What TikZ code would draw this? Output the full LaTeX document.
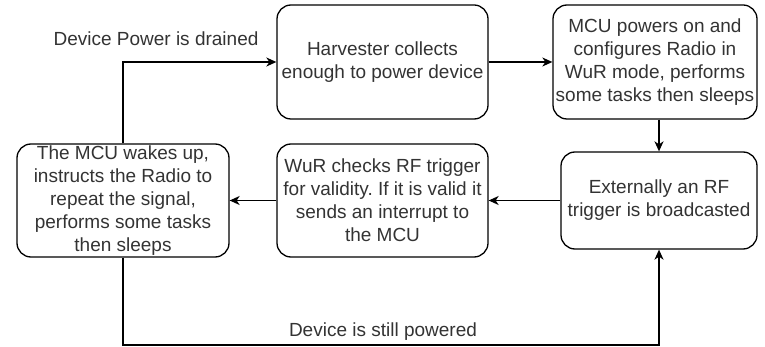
\documentclass[tikz,border=0pt]{standalone}
\usepackage{fontspec}
\setmainfont{Liberation Sans}
\usetikzlibrary{arrows.meta}
\frenchspacing
\begin{document}
\begin{tikzpicture}[x=1pt,y=-1pt,
 box/.style={draw, rounded corners=14pt, line width=1.3pt, align=center, font=\fontsize{19}{23}\selectfont\frenchspacing, text=black!80, inner sep=0pt},
 conn/.style={line width=1.3pt, -{Stealth[length=10pt,width=9pt,inset=3pt]}},
 lbl/.style={font=\fontsize{19}{23}\selectfont, text=black!80, inner sep=1pt}]
\useasboundingbox (0,0) rectangle (765,347);
\node[box, minimum width=211pt, minimum height=114pt] (harv) at (382.5,62) {Harvester collects\\enough to power device};
\node[box, minimum width=204pt, minimum height=114pt] (mcu) at (655,62) {MCU powers on and\\configures Radio in\\WuR mode, performs\\some tasks then sleeps};
\node[box, minimum width=196pt, minimum height=97pt] (ext) at (659,200.5) {Externally an RF\\trigger is broadcasted};
\node[box, minimum width=211pt, minimum height=113pt] (wur) at (382.5,200.5) {WuR checks RF trigger\\for validity. If it is valid it\\sends an interrupt to\\the MCU};
\node[box, minimum width=212pt, minimum height=113pt] (wake) at (123,200.5) {The MCU wakes up,\\instructs the Radio to\\repeat the signal,\\performs some tasks\\then sleeps};
\coordinate (bot) at (0,345);
\draw[conn] (mcu.south -| ext.north) -- (ext.north);
\draw[conn] (harv.east) -- (mcu.west);
\draw[conn] (ext.west) -- (wur.east);
\draw[conn] (wur.west) -- (wake.east);
\draw[conn] (wake.north) |- (harv.west);
\draw[conn] (wake.south) -- (wake.south |- bot) -| (ext.south);
\node[lbl] (l1) at (156,39) {Device Power is drained};
\node[lbl] (l2) at (383,332) {Device is still powered};
\end{tikzpicture}
\end{document}
